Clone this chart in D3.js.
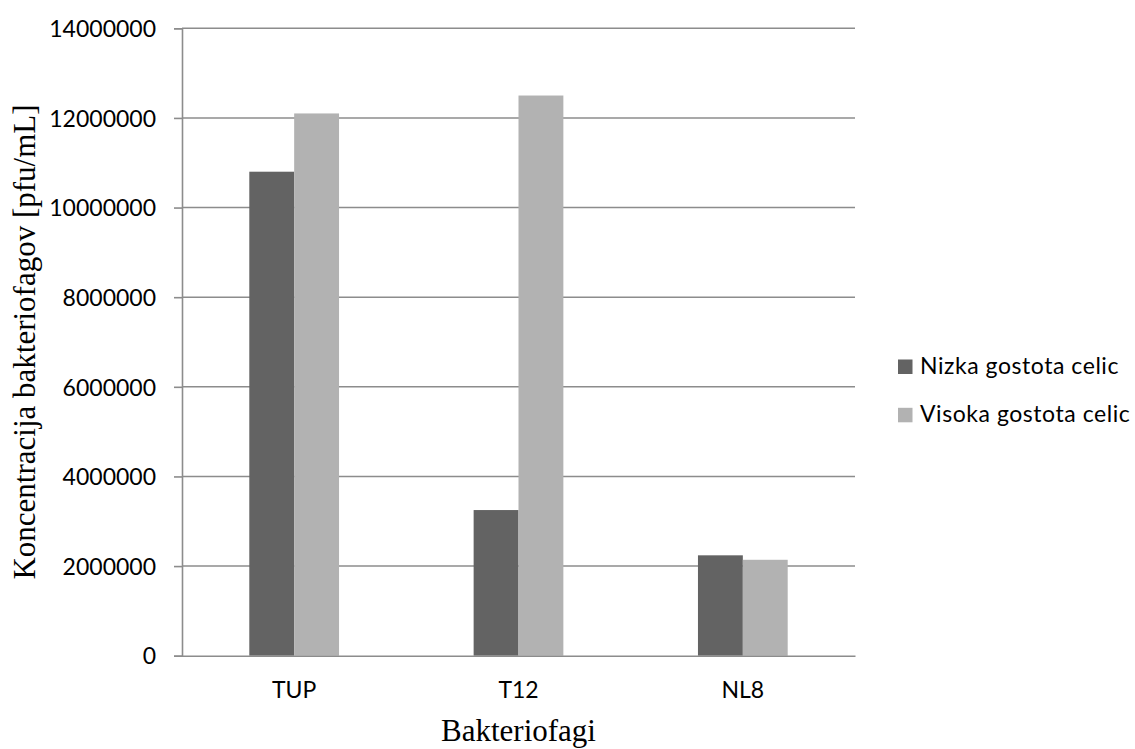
<!DOCTYPE html>
<html>
<head>
<meta charset="utf-8">
<script src="https://cdn.jsdelivr.net/npm/d3@7"></script>
<style>
  html, body { margin: 0; padding: 0; background: #ffffff; }
  svg { display: block; }
</style>
</head>
<body>
<svg id="chart" width="1135" height="749"></svg>
<script>
// Phage concentrations (pfu/mL) at low and high cell density
const categories = ["TUP", "T12", "NL8"];
const seriesNames = ["Nizka gostota celic", "Visoka gostota celic"];
const lowDensity = [10800000, 3250000, 2240000];
const highDensity = [12100000, 12500000, 2140000];
const yTicks = [0, 2000000, 4000000, 6000000, 8000000, 10000000, 12000000, 14000000];
const seriesColors = ["#636363", "#b2b2b2"];

const svg = d3.select("#chart");
const W = 1135, H = 749;
svg.append("rect").attr("width", W).attr("height", H).attr("fill", "#ffffff");

const plot = { left: 182, right: 855, top: 28.3, bottom: 655.7 };
const gridColor = "#8c8c8c";
const tickFont = "Lato, 'Open Sans', sans-serif";
const titleFont = "'Liberation Serif', 'Times New Roman', serif";

const x = d3.scaleBand().domain(categories).range([plot.left, plot.right]).padding(0);
const y = d3.scaleLinear().domain([0, 14000000]).range([plot.bottom, plot.top]);
const barW = x.bandwidth() * 0.2;
const xs = d3.scaleBand().domain([0, 1]).range([-barW, barW]).padding(0);

// horizontal gridlines
svg.append("g")
  .selectAll("line")
  .data(yTicks.filter(d => d !== 0))
  .join("line")
  .attr("x1", plot.left)
  .attr("x2", plot.right)
  .attr("y1", d => y(d))
  .attr("y2", d => y(d))
  .attr("stroke", gridColor)
  .attr("stroke-width", 1.6);

// bars
const series = [lowDensity, highDensity];
series.forEach((vals, si) => {
  svg.append("g")
    .selectAll("rect")
    .data(vals)
    .join("rect")
    .attr("x", (d, i) => x(categories[i]) + x.bandwidth() / 2 + xs(si))
    .attr("width", xs.bandwidth())
    .attr("y", d => y(d))
    .attr("height", d => y(0) - y(d))
    .attr("fill", seriesColors[si]);
});

// y axis
const yAxis = svg.append("g")
  .attr("transform", `translate(${plot.left},0)`)
  .call(d3.axisLeft(y).tickValues(yTicks).tickFormat(d3.format("d")).tickSize(8).tickPadding(18));
yAxis.select(".domain").attr("stroke", gridColor).attr("stroke-width", 1.6);
yAxis.selectAll(".tick line").attr("stroke", gridColor).attr("stroke-width", 1.6);
yAxis.selectAll(".tick text")
  .attr("font-family", tickFont)
  .attr("font-size", 23)
  .attr("fill", "#000")
  .attr("dy", "0.36em");

// x axis baseline
const xAxis = svg.append("g")
  .attr("transform", `translate(0,${plot.bottom})`)
  .call(d3.axisBottom(x).tickSize(0).tickPadding(26));
xAxis.select(".domain").attr("stroke", gridColor).attr("stroke-width", 1.6);
xAxis.selectAll(".tick text")
  .attr("font-family", tickFont)
  .attr("font-size", 23)
  .attr("fill", "#000");

// axis titles
svg.append("text")
  .attr("x", (plot.left + plot.right) / 2)
  .attr("y", 741)
  .attr("text-anchor", "middle")
  .attr("font-family", titleFont)
  .attr("font-size", 31)
  .attr("fill", "#000")
  .text("Bakteriofagi");

svg.append("text")
  .attr("transform", "translate(35,342) rotate(-90)")
  .attr("text-anchor", "middle")
  .attr("font-family", titleFont)
  .attr("font-size", 31)
  .attr("fill", "#000")
  .text("Koncentracija bakteriofagov [pfu/mL]");

// legend
const legend = svg.append("g").attr("transform", "translate(898,359.5)");
const rows = legend.selectAll("g")
  .data(seriesNames)
  .join("g")
  .attr("transform", (d, i) => `translate(0,${i * 48.3})`);
rows.append("rect")
  .attr("width", 14.5)
  .attr("height", 14.5)
  .attr("fill", (d, i) => seriesColors[i]);
rows.append("text")
  .attr("x", 22)
  .attr("y", 14)
  .attr("font-family", tickFont)
  .attr("font-size", 23)
  .attr("letter-spacing", 0.55)
  .attr("fill", "#000")
  .text(d => d);
</script>
</body>
</html>
